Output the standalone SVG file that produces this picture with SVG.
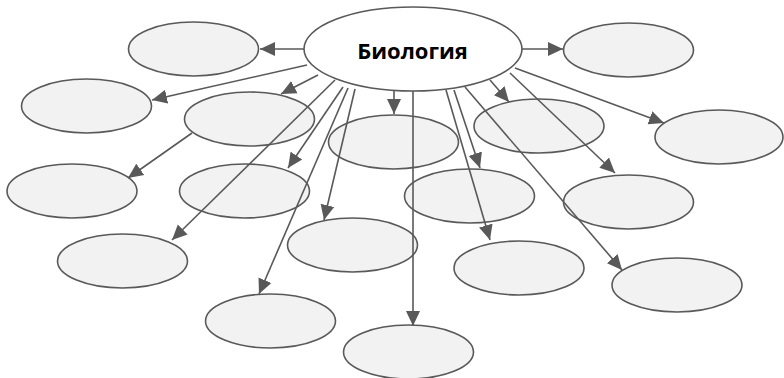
<svg xmlns="http://www.w3.org/2000/svg" width="784" height="378" viewBox="0 0 784 378">
<style>
.n{fill:#f2f2f2;stroke:#595959;stroke-width:1.6}
.c{fill:#ffffff;stroke:#595959;stroke-width:1.6}
.e line{stroke:#595959;stroke-width:1.6;marker-end:url(#ah)}
.t{font-family:"Open Sans","Liberation Sans",sans-serif;font-weight:bold;font-size:22px;fill:#000}
</style>
<defs>
<marker id="ah" markerUnits="userSpaceOnUse" markerWidth="16" markerHeight="16" viewBox="0 0 16 16" refX="15" refY="8" orient="auto">
<path d="M0,1 L15,8 L0,15 Z" fill="#595959"/>
</marker>
</defs>
<g id="nodes-bg">
<g id="nA"><ellipse class="n" cx="193.5" cy="49" rx="65" ry="27"/></g>
<g id="nB"><ellipse class="n" cx="86.5" cy="106" rx="65" ry="27"/></g>
<g id="nC"><ellipse class="n" cx="249.5" cy="119" rx="65" ry="27"/></g>
<g id="nD"><ellipse class="n" cx="72" cy="191" rx="65" ry="27"/></g>
<g id="nE"><ellipse class="n" cx="244.5" cy="191" rx="65" ry="27"/></g>
<g id="nF"><ellipse class="n" cx="393.5" cy="142" rx="65" ry="27"/></g>
<g id="nG"><ellipse class="n" cx="628.5" cy="50" rx="65" ry="27"/></g>
<g id="nH"><ellipse class="n" cx="539" cy="126" rx="65" ry="27"/></g>
<g id="nI"><ellipse class="n" cx="719" cy="137" rx="64" ry="27"/></g>
<g id="nJ"><ellipse class="n" cx="628.5" cy="202" rx="65" ry="27"/></g>
<g id="nK"><ellipse class="n" cx="469.5" cy="196" rx="65" ry="27"/></g>
<g id="nL"><ellipse class="n" cx="519" cy="268" rx="65" ry="27"/></g>
<g id="nM"><ellipse class="n" cx="677" cy="285" rx="65" ry="27"/></g>
<g id="nN"><ellipse class="n" cx="408.5" cy="352" rx="65" ry="27"/></g>
<g id="nO"><ellipse class="n" cx="122.5" cy="261" rx="65" ry="27"/></g>
<g id="nP"><ellipse class="n" cx="270.5" cy="321" rx="65" ry="27"/></g>
<g id="nQ"><ellipse class="n" cx="352.5" cy="245" rx="65" ry="27"/></g>
</g>
<g id="connectors" class="e">
<line x1="304" y1="49" x2="260" y2="49"/>
<line x1="522" y1="49" x2="563" y2="49"/>
<line x1="307" y1="65" x2="152" y2="100"/>
<line x1="318" y1="75" x2="281" y2="94"/>
<line x1="192" y1="133" x2="128" y2="178"/>
<line x1="335" y1="80" x2="172" y2="240"/>
<line x1="343" y1="87" x2="288" y2="168"/>
<line x1="348" y1="88" x2="259" y2="294"/>
<line x1="355" y1="89" x2="324" y2="220"/>
<line x1="394" y1="91" x2="394" y2="114"/>
<line x1="413" y1="91" x2="413" y2="326"/>
<line x1="454" y1="90" x2="480" y2="168"/>
<line x1="446" y1="90" x2="490" y2="240"/>
<line x1="490" y1="80" x2="509" y2="102"/>
<line x1="465" y1="87" x2="622" y2="270"/>
<line x1="510" y1="73" x2="615" y2="173"/>
<line x1="515" y1="68" x2="664" y2="123"/>
</g>
<g id="nCenter"><ellipse class="c" cx="413" cy="49" rx="109" ry="42"/><text class="t" x="412.5" y="58.5" text-anchor="middle">Биология</text></g>
</svg>
